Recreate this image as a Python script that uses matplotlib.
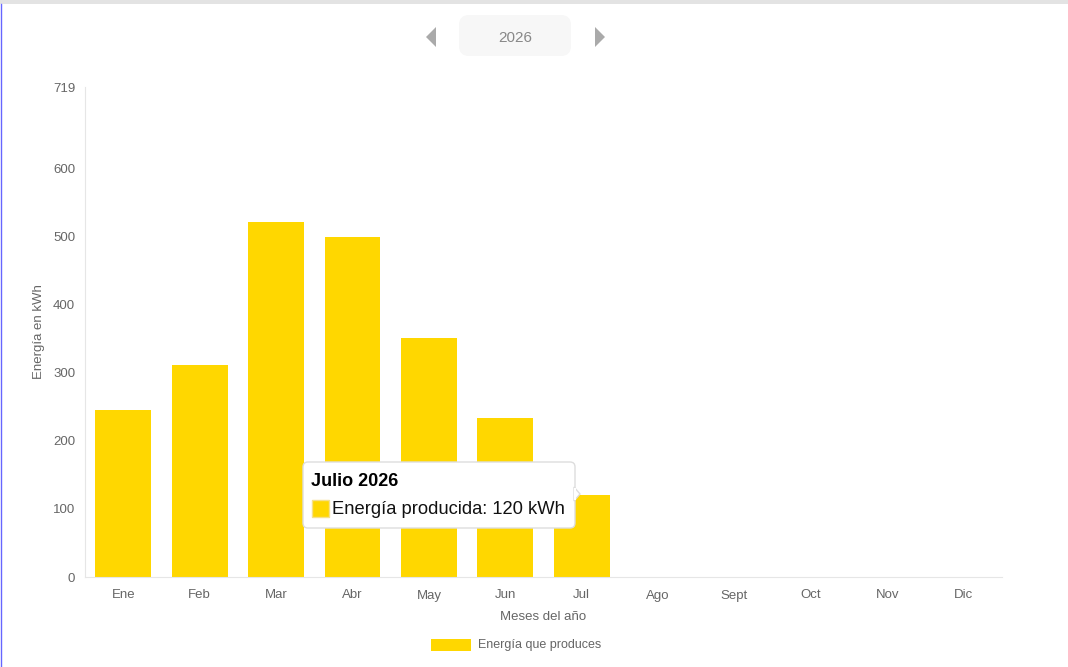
import matplotlib
matplotlib.use("Agg")
import matplotlib.pyplot as plt
from matplotlib.patches import FancyBboxPatch, Rectangle, Polygon

plt.rcParams['font.family'] = ['Liberation Sans', 'DejaVu Sans']

months = ["Ene", "Feb", "Mar", "Abr", "May", "Jun", "Jul", "Ago", "Sept", "Oct", "Nov", "Dic"]
energy = [245, 311, 521, 499, 351, 233, 120, 0, 0, 0, 0, 0]
yticks = [0, 100, 200, 300, 400, 500, 600, 719]
year = "2026"
bar_color = "#FFD700"

W, H = 1068, 667
fig = plt.figure(figsize=(W / 100, H / 100), dpi=100)

# axes box in pixel terms
x0, x1, ytop, ybot = 85, 1002, 87, 577
ax = fig.add_axes([x0 / W, (H - ybot) / H, (x1 - x0) / W, (ybot - ytop) / H])

pos = list(range(len(months)))
ax.bar(pos, energy, width=0.73, color=bar_color, zorder=2)
ax.set_xlim(-0.5, len(months) - 0.5)
ax.set_ylim(0, 719)
ax.set_yticks(yticks)
ax.set_xticks(pos)
ax.set_xticklabels(months)
ax.tick_params(axis='both', length=0, labelsize=9.5, colors='#666666')
ax.tick_params(axis='x', pad=9)
ax.tick_params(axis='y', pad=7)
for s in ["top", "right"]:
    ax.spines[s].set_visible(False)
ax.spines["left"].set_color("#e6e6e6")
ax.spines["bottom"].set_color("#e6e6e6")
ax.set_xlabel("Meses del año", color="#666666", fontsize=9.5, labelpad=7)
ax.set_ylabel("Energía en kWh", color="#666666", fontsize=9.5, labelpad=6)

# overlay axes in pixel coordinates for decorations
ov = fig.add_axes([0, 0, 1, 1], zorder=5)
ov.set_xlim(0, W)
ov.set_ylim(H, 0)
ov.axis("off")

# window frame
ov.add_patch(Rectangle((0, 0), W, 4, color="#e3e3e3", lw=0))
ov.plot([1, 1], [4, H], color="#6666ff", lw=1)

# year selector
ov.add_patch(FancyBboxPatch((459, 15), 112, 41, boxstyle="round,pad=0,rounding_size=10",
                            fc="#f7f7f7", ec="none"))
ov.text(515, 38, year, ha="center", va="center", fontsize=11, color="#888888")
ov.add_patch(Polygon([[436, 27], [436, 47], [426, 37]], closed=True, color="#aaaaaa", lw=0))
ov.add_patch(Polygon([[595, 27], [595, 47], [605, 37]], closed=True, color="#aaaaaa", lw=0))

# tooltip
ov.add_patch(FancyBboxPatch((303, 462), 272, 66, boxstyle="round,pad=0,rounding_size=5",
                            fc="white", ec="#dddddd", lw=1))
ov.add_patch(Polygon([[574, 487], [580, 494], [574, 501]], closed=True, fc="white",
                     ec="#dddddd", lw=1))
ov.add_patch(Rectangle((574, 488), 1.5, 12, color="white", lw=0))
ov.text(311, 481, "Julio " + year, ha="left", va="center", fontsize=13,
        fontweight="bold", color="black")
ov.add_patch(Rectangle((312, 500), 17, 17, fc=bar_color, ec="#f5e08a", lw=1))
ov.text(332, 509, "Energía producida: %d kWh" % energy[6], ha="left", va="center",
        fontsize=13.25, color="#111111")

# legend
ov.add_patch(Rectangle((431, 639), 40, 12, color=bar_color, lw=0))
ov.text(478, 645, "Energía que produces", ha="left", va="center", fontsize=9,
        color="#666666")

fig.savefig("out.png", dpi=100)
